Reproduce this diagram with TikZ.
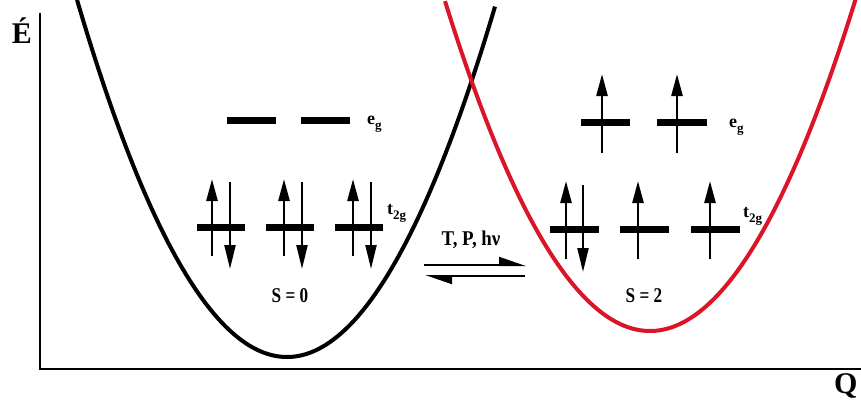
\documentclass[tikz,border=0pt]{standalone}
\usepackage{fontspec}
\setmainfont{Liberation Serif}
\usetikzlibrary{arrows.meta}
\definecolor{curvered}{RGB}{220,20,40}
\newcommand{\sbg}[1]{\raisebox{-0.3em}{\fontsize{13}{13}\selectfont #1}}
\begin{document}
\begin{tikzpicture}[x=1pt,y=-1pt,
  lvl/.style={line width=7pt},
  spin/.style={line width=2.6pt,-{Triangle[length=22pt,width=11pt]}},
  spindn/.style={line width=2.2pt,-{Triangle[length=24pt,width=11pt]}},
  harp/.style={line width=2pt,-{Triangle[left,length=24pt,width=16pt]}},
  curve/.style={line width=4pt},
  lab/.style={font=\bfseries\fontsize{21}{21}\selectfont, inner sep=0pt, anchor=base},
  small/.style={font=\bfseries\fontsize{18}{18}\selectfont, inner sep=0pt, anchor=base west},
  axlab/.style={font=\bfseries\fontsize{30}{30}\selectfont, inner sep=0pt}
]
\useasboundingbox (0,0) rectangle (861,402);
% axes
\coordinate (ytop) at (40,13);
\coordinate (orig) at (40,369);
\coordinate (xend) at (861,369);
\draw[line width=2.4pt] (ytop) -- (orig) -- (xend);
\node[axlab,anchor=base] (E) at (22,43) {É};
\node[axlab,anchor=base west] (Q) at (834,393) {Q};
% curves
\draw[curve,black] plot[domain=77:495,samples=120] (\x,{357-(0.09*(\x-287))^2});
\draw[curve,curvered] plot[domain=445:856,samples=120] (\x,{331-(0.0886*(\x-650))^2});
% left: S = 0
\draw[lvl] (227,120) -- (276,120);
\draw[lvl] (301,120) -- (350,120);
\node[small] (eg1) at (367,124) {e\sbg{g}};
\foreach \a/\b in {197/245,266/314,335/383}{\draw[lvl] (\a,227) -- (\b,227);}
\foreach \u/\d in {212/230,284/302,353/371}{
  \coordinate (u1\u) at (\u,256); \coordinate (u2\u) at (\u,179);
  \coordinate (d1\d) at (\d,182); \coordinate (d2\d) at (\d,269);
  \draw[spin] (u1\u) -- (u2\u);
  \draw[spindn] (d1\d) -- (d2\d);
}
\node[small] (t1) at (387,214) {t\sbg{2g}};
\node[lab,xscale=0.82] (S0) at (290,302) {S = 0};
% right: S = 2
\draw[lvl] (581,122) -- (630,122);
\draw[lvl] (657,122) -- (707,122);
\foreach \u in {602,677}{
  \coordinate (eu1\u) at (\u,153); \coordinate (eu2\u) at (\u,74);
  \draw[spin] (eu1\u) -- (eu2\u);
}
\node[small] (eg2) at (729,127) {e\sbg{g}};
\foreach \a/\b in {550/599,620/669,691/740}{\draw[lvl] (\a,229) -- (\b,229);}
\foreach \u in {566,638,710}{
  \coordinate (ru1\u) at (\u,259); \coordinate (ru2\u) at (\u,181);
  \draw[spin] (ru1\u) -- (ru2\u);
}
\coordinate (rd1) at (583,185); \coordinate (rd2) at (583,272);
\draw[spindn] (rd1) -- (rd2);
\node[small] (t2) at (743,217) {t\sbg{2g}};
\node[lab,xscale=0.82] (S2) at (644,302) {S = 2};
% equilibrium
\coordinate (hl1) at (424,265); \coordinate (hr1) at (526,265);
\coordinate (hl2) at (425,276); \coordinate (hr2) at (525,276);
\draw[harp] (hl1) -- (hr1);
\draw[harp] (hr2) -- (hl2);
\node[lab,xscale=0.9] (TP) at (471,245) {T, P, hν};
\end{tikzpicture}
\end{document}
